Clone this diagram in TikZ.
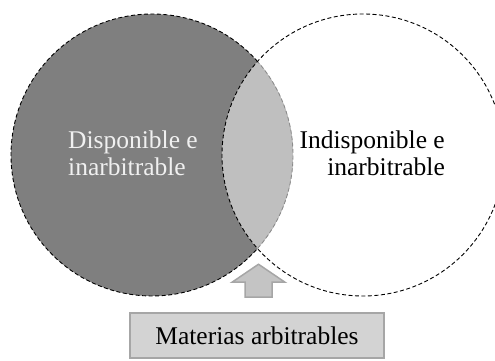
\documentclass[tikz,border=0pt]{standalone}
\usepackage{fontspec}
\setmainfont{Liberation Serif}
\definecolor{darkfill}{HTML}{7F7F7F}
\definecolor{lensfill}{HTML}{BFBFBF}
\definecolor{boxfill}{HTML}{D3D3D3}
\definecolor{boxedge}{HTML}{A6A6A6}
\definecolor{arrowfill}{HTML}{C4C4C4}
\definecolor{lensedge}{HTML}{8C8C8C}
\tikzset{
  dashline/.style={line width=0.9pt, dash pattern=on 4pt off 2.5pt},
  lbl/.style={inner sep=0pt, font=\fontsize{25.5}{27}\selectfont},
  boxnode/.style={draw=boxedge, fill=boxfill, line width=1.5pt, minimum width=254pt, minimum height=45pt, inner sep=0pt, font=\fontsize{25.5}{27}\selectfont},
  blockarrow/.style={draw=boxedge, fill=arrowfill, line width=1.5pt, line join=miter}
}
\begin{document}
\begin{tikzpicture}[x=1pt,y=1pt]
\useasboundingbox (0,0) rectangle (495,361);
\coordinate (cl) at (152,206);
\coordinate (cr) at (363,206);
\def\R{141}
% filled regions
\fill[darkfill] (cl) circle (\R);
\begin{scope}
  \clip (cr) circle (\R);
  \fill[lensfill] (cl) circle (\R);
\end{scope}
% outlines
\draw[dashline, black] (cl) ++(41.45:\R) arc[start angle=41.45, end angle=318.55, radius=\R];
\draw[dashline, lensedge] (cl) ++(-41.45:\R) arc[start angle=-41.45, end angle=41.45, radius=\R];
\draw[dashline, black] (cr) circle (\R);
% labels
\node[lbl, text=white!94!black, align=left, anchor=north west] (ltext) at (68,230) {Disponible e\\inarbitrable};
\node[lbl, text=black, align=right, anchor=north east] (rtext) at (445,230) {Indisponible e\\inarbitrable};
% box and arrow
\node[boxnode] (box) at (257,25.5) {Materias arbitrables};
\coordinate (ab) at ([xshift=1.5pt,yshift=15pt]box.north);
\draw[blockarrow] (ab) ++(-13.5,0) -- ++(0,15) -- ++(-13,0) -- ++(26.5,18) -- ++(26.5,-18) -- ++(-13,0) -- ++(0,-15) -- cycle;
\end{tikzpicture}
\end{document}
